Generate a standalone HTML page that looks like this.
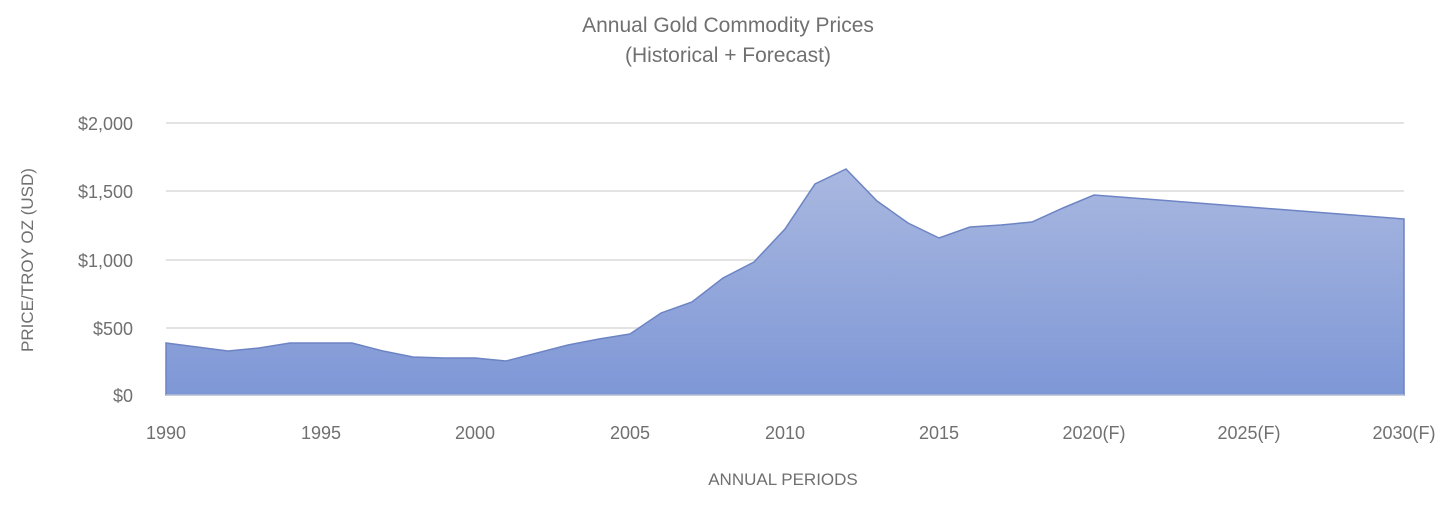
<!DOCTYPE html><html><head><style>body{margin:0;background:#fff}svg text{font-family:"Liberation Sans",sans-serif;fill:#707070}</style></head><body>
<svg width="1456" height="510" xmlns="http://www.w3.org/2000/svg">
<defs><linearGradient id="g" x1="0" y1="0" x2="0" y2="1"><stop offset="0" stop-color="#a9b8e0"/><stop offset="1" stop-color="#7e97d6"/></linearGradient></defs>
<text x="728" y="32" text-anchor="middle" font-size="21">Annual  Gold  Commodity  Prices</text>
<text x="728" y="62" text-anchor="middle" font-size="21">(Historical  + Forecast)</text>
<g stroke="#e3e3e3" stroke-width="2"><line x1="166" x2="1404" y1="123" y2="123"/><line x1="166" x2="1404" y1="191" y2="191"/><line x1="166" x2="1404" y1="260" y2="260"/><line x1="166" x2="1404" y1="328" y2="328"/></g>
<polygon fill="url(#g)" stroke="#6d84c4" stroke-width="1.5" points="166,395 166,343 197,347 228,351 259,348 290,343 321,343 352,343 383,351 413,357 444,358 475,358 506,361 537,353 568,345 599,339 630,334 661,313 692,302 723,278 754,262 785,229 815,184 846,169 877,201 908,223 939,238 970,227 1001,225 1032,222 1063,208 1094,195 1404,219 1404,395"/>
<line x1="166" x2="1404" y1="395" y2="395" stroke="#d9d9d9"/>
<g stroke="#d9d9d9" id="t"></g>
<script>
var g=document.getElementById('t'),s='';for(var i=0;i<=40;i++){var x=166+i*30.95;s+='<line x1="'+x+'" x2="'+x+'" y1="395" y2="401"/>';}g.innerHTML=s;
</script>
<g font-size="18" text-anchor="end"><text x="133" y="130">$2,000</text><text x="133" y="198">$1,500</text><text x="133" y="267">$1,000</text><text x="133" y="335">$500</text><text x="133" y="402">$0</text></g>
<g font-size="18" text-anchor="middle"><text x="166" y="439">1990</text><text x="321" y="439">1995</text><text x="475" y="439">2000</text><text x="630" y="439">2005</text><text x="785" y="439">2010</text><text x="939" y="439">2015</text><text x="1094" y="439">2020(F)</text><text x="1249" y="439">2025(F)</text><text x="1404" y="439">2030(F)</text></g>
<text x="783" y="485" text-anchor="middle" font-size="17">ANNUAL PERIODS</text>
<text transform="translate(33,260) rotate(-90)" text-anchor="middle" font-size="17">PRICE/TROY OZ (USD)</text>
</svg></body></html>
